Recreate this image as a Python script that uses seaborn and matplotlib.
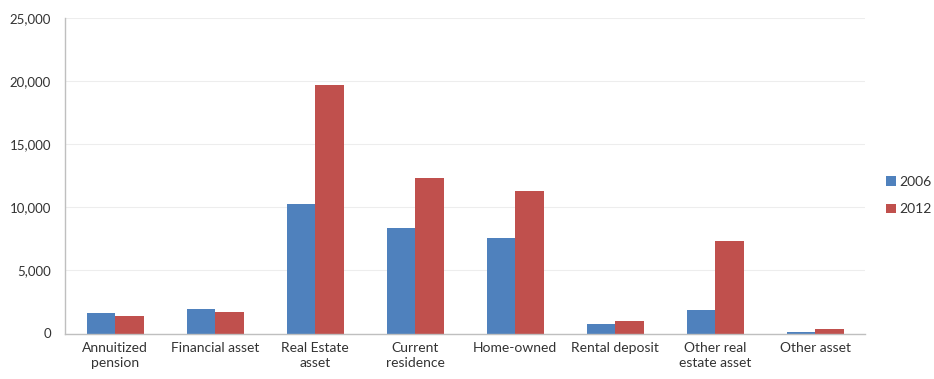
import matplotlib
matplotlib.use("Agg")
import matplotlib.pyplot as plt
import seaborn as sns
import pandas as pd
import numpy as np
from matplotlib.ticker import FuncFormatter, FixedLocator

categories = ["Annuitized\npension", "Financial asset", "Real Estate\nasset", "Current\nresidence",
              "Home-owned", "Rental deposit", "Other real\nestate asset", "Other asset"]
years = ["2006", "2012"]
values_2006 = [1630, 1950, 10240, 8360, 7600, 740, 1870, 130]
values_2012 = [1370, 1740, 19690, 12320, 11270, 1000, 7330, 320]
colors = ["#4F81BD", "#C0504D"]

df = pd.DataFrame({
    "category": categories * 2,
    "year": [years[0]] * len(categories) + [years[1]] * len(categories),
    "value": values_2006 + values_2012,
})

sns.set_style("white")
plt.rcParams["font.family"] = ["Lato", "DejaVu Sans"]

fig = plt.figure(figsize=(9.34, 3.79), dpi=100)
ax = fig.add_axes([65 / 934, 1 - 333.5 / 379, 800 / 934, 315.5 / 379])

sns.barplot(data=df, x="category", y="value", hue="year", palette=colors,
            width=0.57, order=categories, hue_order=years, ax=ax,
            saturation=1, errorbar=None, edgecolor="none")

ax.set_ylim(0, 25000)
ax.set_xlim(-0.5, len(categories) - 0.5)
ax.set_yticks(np.arange(0, 25001, 5000))
ax.yaxis.set_major_formatter(FuncFormatter(lambda v, p: f"{int(v):,}"))
ax.grid(axis="y", color="#EDEDED", linewidth=0.8)
ax.set_axisbelow(True)

for s in ["top", "right"]:
    ax.spines[s].set_visible(False)
for s in ["left", "bottom"]:
    ax.spines[s].set_color("#BFBFBF")
    ax.spines[s].set_linewidth(1.0)

ax.set_xlabel("")
ax.set_ylabel("")
ax.tick_params(axis="x", which="major", length=0, pad=6, labelsize=10, colors="#333333")
ax.xaxis.set_minor_locator(FixedLocator(np.arange(-0.5, len(categories), 1.0)))
ax.tick_params(axis="x", which="minor", length=4, color="#BFBFBF", direction="out")
ax.tick_params(axis="y", length=4, color="#BFBFBF", direction="out", labelsize=9.5,
               colors="#333333", pad=6)
for lbl in ax.get_xticklabels():
    lbl.set_linespacing(1.3)

leg = ax.legend(loc="center left", bbox_to_anchor=((886 - 65) / 800, 0.437), frameon=False,
                fontsize=10, handlelength=0.7, handleheight=0.7, handletextpad=0.25,
                labelspacing=1.1, labelcolor="#333333", borderpad=0, borderaxespad=0)

fig.savefig("out.png", dpi=100, facecolor="white")
